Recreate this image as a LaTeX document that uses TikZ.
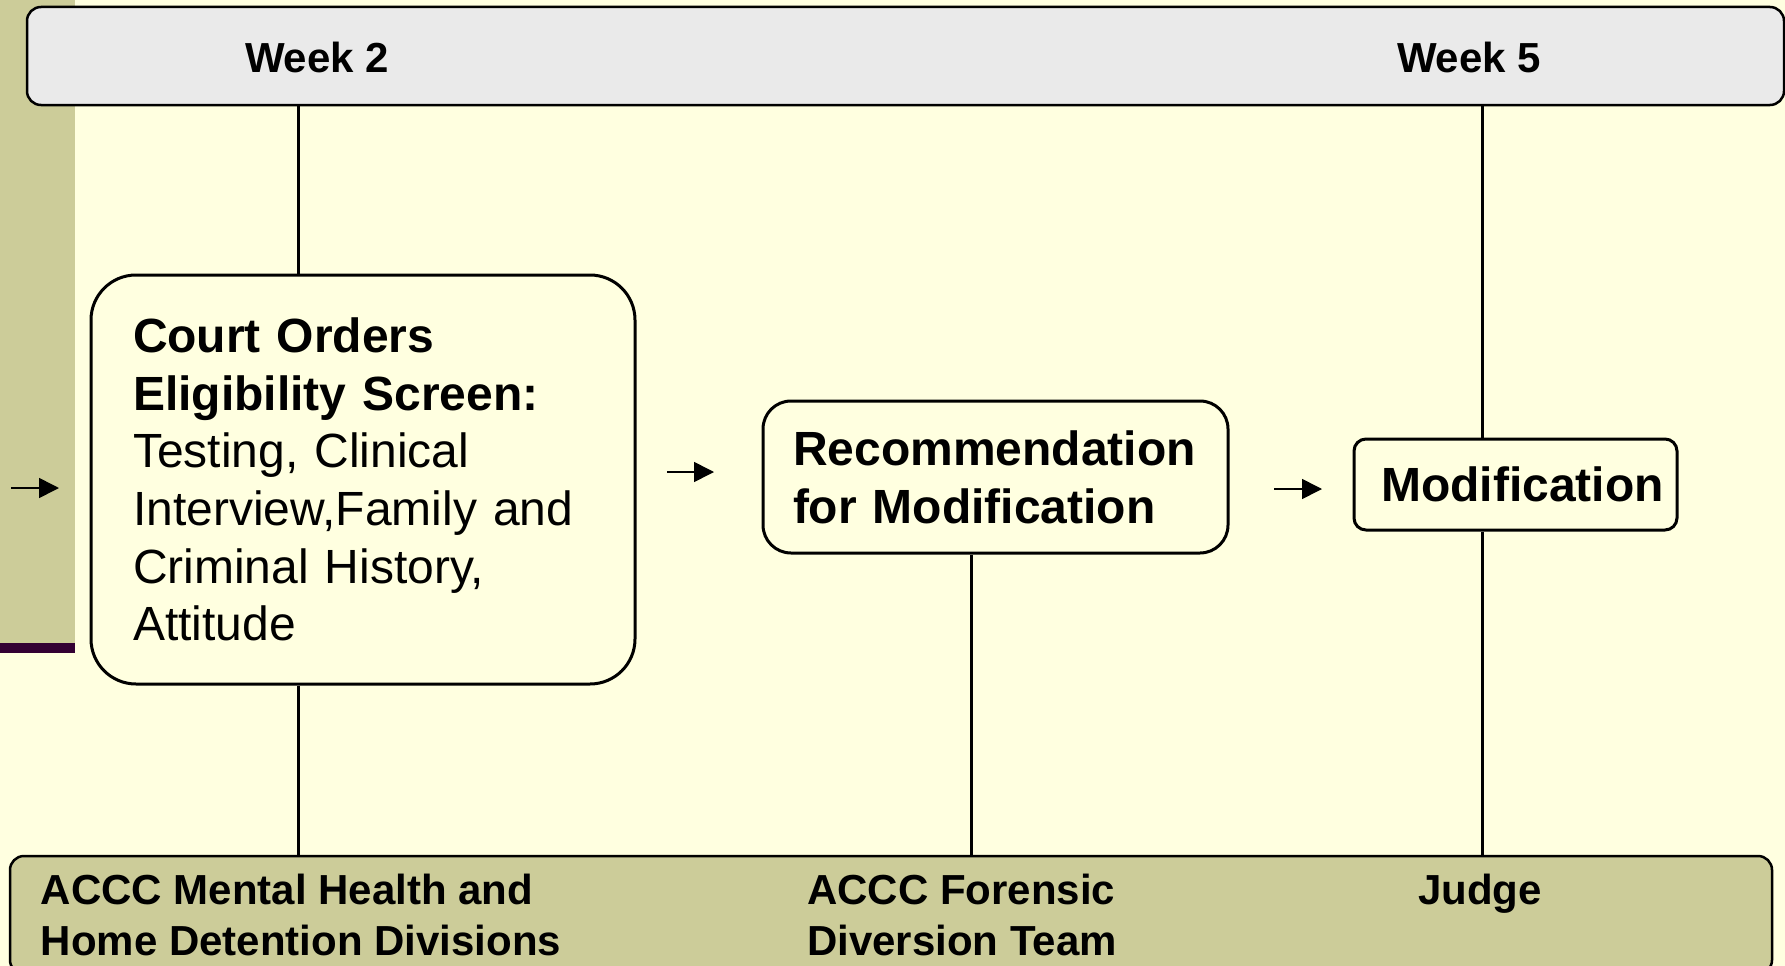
\documentclass[tikz,border=0pt]{standalone}
\usepackage{fontspec}
\setmainfont{Liberation Sans}
\usetikzlibrary{arrows.meta}
\definecolor{paper}{RGB}{255,255,224}
\definecolor{sidebar}{RGB}{204,204,153}
\definecolor{weekgray}{RGB}{234,234,234}
\definecolor{plum}{RGB}{51,0,51}
\tikzset{
  stage/.style={draw, line width=3pt, rounded corners=#1, fill=paper, inner sep=0pt},
  band/.style={draw, line width=2.5pt, rounded corners=14pt, inner sep=0pt},
  lane/.style={line width=3pt},
  flow/.style={line width=1.6pt, -{Triangle[length=20pt,width=20pt]}},
  big/.style={font=\fontsize{48}{57.6}\selectfont},
  bigbold/.style={font=\fontsize{48}{58}\selectfont\bfseries},
  small/.style={font=\fontsize{42}{50.4}\selectfont\bfseries, inner sep=0pt}
}
\begin{document}
\begin{tikzpicture}[x=1pt, y=-1pt]
\useasboundingbox (0,0) rectangle (1785,966);
\clip (0,0) rectangle (1785,966);
\fill[paper] (0,0) rectangle (1785,966);
\fill[sidebar] (0,0) rectangle (75,643);
\fill[plum] (0,643) rectangle (75,653);
% bars
\node (weekbar) [band, fill=weekgray, minimum width=1757pt, minimum height=98pt] at (905.5,56) {};
\node (rolebar) [band, fill=sidebar, minimum width=1762pt, minimum height=118pt] at (891,915) {};
\node (week2) [small] at (317,57) {Week 2};
\node (week5) [small] at (1469,57) {Week 5};
% stages
\node (screen) [stage=45pt, big, minimum width=544pt, minimum height=409pt,
  text width=460pt, align=left] at (363,479.5)
  {\textbf{Court Orders}\\\textbf{Eligibility Screen:}\\Testing, Clinical\\Interview,Family and\\Criminal History,\\Attitude};
\node (recommend) [stage=28pt, bigbold, minimum width=465pt, minimum height=152pt,
  text width=405pt, align=left] at (995.5,477)
  {Recommendation\\for Modification};
\node (modif) [stage=12pt, bigbold, minimum width=323pt, minimum height=91pt]
  at (1515.5,484.5) {\hspace*{14pt}Modification};
% roles
\node (mhdiv) [small, anchor=north, align=left] at (301,874) {ACCC Mental Health and\\Home Detention Divisions};
\node (fdteam) [small, anchor=north, align=left] at (962,874) {ACCC Forensic\\Diversion Team};
\node (judge) [small, anchor=north] at (1480,874) {Judge};
% lanes
\coordinate (col1) at (298,0);
\coordinate (col2) at (971,0);
\coordinate (col3) at (1482,0);
\draw[lane] (col1 |- weekbar.south) -- (col1 |- screen.north);
\draw[lane] (col1 |- screen.south) -- (col1 |- rolebar.north);
\draw[lane] (col2 |- recommend.south) -- (col2 |- rolebar.north);
\draw[lane] (col3 |- weekbar.south) -- (col3 |- modif.north);
\draw[lane] (col3 |- modif.south) -- (col3 |- rolebar.north);
% arrows
\coordinate (a1) at (11,488);  \coordinate (b1) at (59,488);
\coordinate (a2) at (667,472); \coordinate (b2) at (714,472);
\coordinate (a3) at (1274,489); \coordinate (b3) at (1322,489);
\draw[flow] (a1) -- (b1);
\draw[flow] (a2) -- (b2);
\draw[flow] (a3) -- (b3);
\end{tikzpicture}
\end{document}
